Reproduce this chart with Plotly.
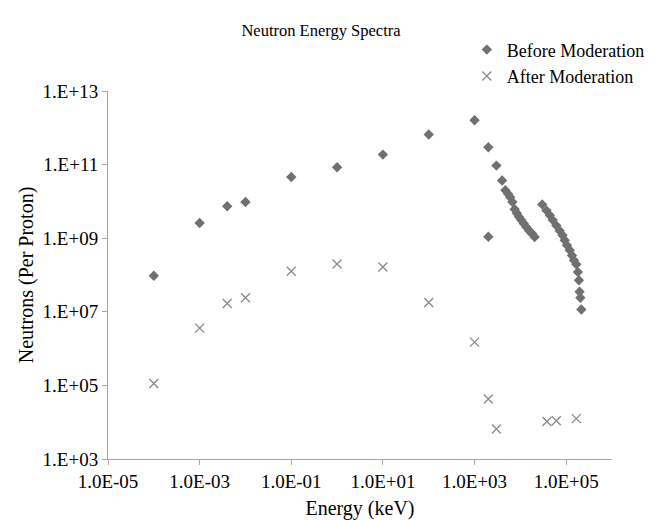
import plotly.graph_objects as go

# ---------------------------------------------------
# DATA
# ---------------------------------------------------

before_energy = [
    1e-4, 1e-3, 4e-3, 1e-2, 1e-1, 1, 10, 100, 1000, 2.0e3, 2.0e3, 3.0e3, 4.0e3,
    4.7e3, 5.4e3, 6.0e3, 6.7e3, 7.5e3, 8.4e3, 9.3e3, 1.05e4, 1.18e4, 1.35e4, 1.55e4, 1.8e4, 2.05e4,
    3.0e4, 3.7e4, 4.4e4, 5.1e4, 6.1e4, 7.2e4, 8.3e4, 9.3e4, 1.04e5, 1.2e5, 1.34e5, 1.48e5,
    1.66e5, 1.8e5, 1.9e5, 1.96e5, 2.04e5, 2.14e5,
]
before_neutrons = [
    9.5e7, 2.6e9, 7.4e9, 9.6e9, 4.6e10, 8.5e10, 1.87e11, 6.6e11, 1.6e12, 2.95e11, 1.1e9, 9.4e10, 3.7e10,
    2.0e10, 1.6e10, 1.3e10, 9.6e9, 6.1e9, 4.8e9, 3.8e9, 3.1e9, 2.5e9, 2.0e9, 1.6e9, 1.34e9, 1.08e9,
    8.3e9, 5.7e9, 4.2e9, 3.1e9, 2.2e9, 1.6e9, 1.2e9, 8.8e8, 6.4e8, 4.7e8, 3.4e8, 2.5e8,
    1.95e8, 1.2e8, 7.2e7, 3.5e7, 2.4e7, 1.15e7,
]

after_energy = [1e-4, 1e-3, 4e-3, 1e-2, 1e-1, 1, 10, 100, 1000, 2.0e3, 3.0e3, 3.8e4, 6.1e4, 1.66e5]
after_neutrons = [1.12e5, 3.6e6, 1.67e7, 2.4e7, 1.26e8, 2.0e8, 1.65e8, 1.8e7, 1.5e6, 4.3e4, 6.5e3, 1.05e4, 1.1e4, 1.25e4]

x_tickvals = [1e-5, 1e-3, 1e-1, 1e1, 1e3, 1e5]
x_ticktext = ["1.0E-05", "1.0E-03", "1.0E-01", "1.0E+01", "1.0E+03", "1.0E+05"]
y_tickvals = [1e3, 1e5, 1e7, 1e9, 1e11, 1e13]
y_ticktext = ["1.E+03", "1.E+05", "1.E+07", "1.E+09", "1.E+11", "1.E+13"]

FONT = "Liberation Serif"
AXIS_GREY = "#a6a6a6"

# ---------------------------------------------------
# CHART
# ---------------------------------------------------

fig = go.Figure()

fig.add_trace(
    go.Scatter(
        x=before_energy,
        y=before_neutrons,
        mode="markers",
        name="Before Moderation",
        marker=dict(symbol="diamond", size=8, color="#707070")
    )
)

fig.add_trace(
    go.Scatter(
        x=after_energy,
        y=after_neutrons,
        mode="markers",
        name="After Moderation",
        marker=dict(
            symbol="x-thin",
            size=9,
            color="#8c8c8c",
            line=dict(width=1.4, color="#8c8c8c")
        )
    )
)

# ---------------------------------------------------
# LAYOUT
# (page has an 8px body margin, so the figure is 660x512)
# ---------------------------------------------------

fig.update_layout(
    width=660,
    height=512,
    paper_bgcolor="white",
    plot_bgcolor="white",
    font=dict(family=FONT, size=18, color="#000000"),
    margin=dict(l=100, r=56, t=83, b=61),
    title=dict(
        text="Neutron Energy Spectra",
        x=313 / 660,
        xanchor="center",
        y=1 - 22 / 512,
        yanchor="middle",
        font=dict(family=FONT, size=16.5, color="#000000")
    ),
    legend=dict(
        x=0.712,
        y=1.162,
        xanchor="left",
        yanchor="top",
        bgcolor="rgba(0,0,0,0)",
        font=dict(family=FONT, size=18, color="#000000"),
        itemwidth=30,
        tracegroupgap=0
    ),
    showlegend=True
)

fig.update_xaxes(
    type="log",
    range=[-5, 6],
    tickvals=x_tickvals,
    ticktext=x_ticktext,
    automargin=False,
    showgrid=False,
    zeroline=False,
    showline=True,
    linecolor=AXIS_GREY,
    linewidth=1,
    ticks="outside",
    ticklen=5,
    tickcolor=AXIS_GREY,
    tickfont=dict(family=FONT, size=19, color="#000000"),
    title=dict(text="Energy (keV)", font=dict(family=FONT, size=20), standoff=12)
)

fig.update_yaxes(
    type="log",
    range=[3, 13],
    tickvals=y_tickvals,
    ticktext=y_ticktext,
    automargin=False,
    showgrid=False,
    zeroline=False,
    showline=True,
    linecolor=AXIS_GREY,
    linewidth=1,
    ticks="outside",
    ticklen=5,
    tickcolor=AXIS_GREY,
    tickfont=dict(family=FONT, size=19, color="#000000"),
    title=dict(text="Neutrons (Per Proton)", font=dict(family=FONT, size=20), standoff=3)
)

fig.write_html("out.html")
